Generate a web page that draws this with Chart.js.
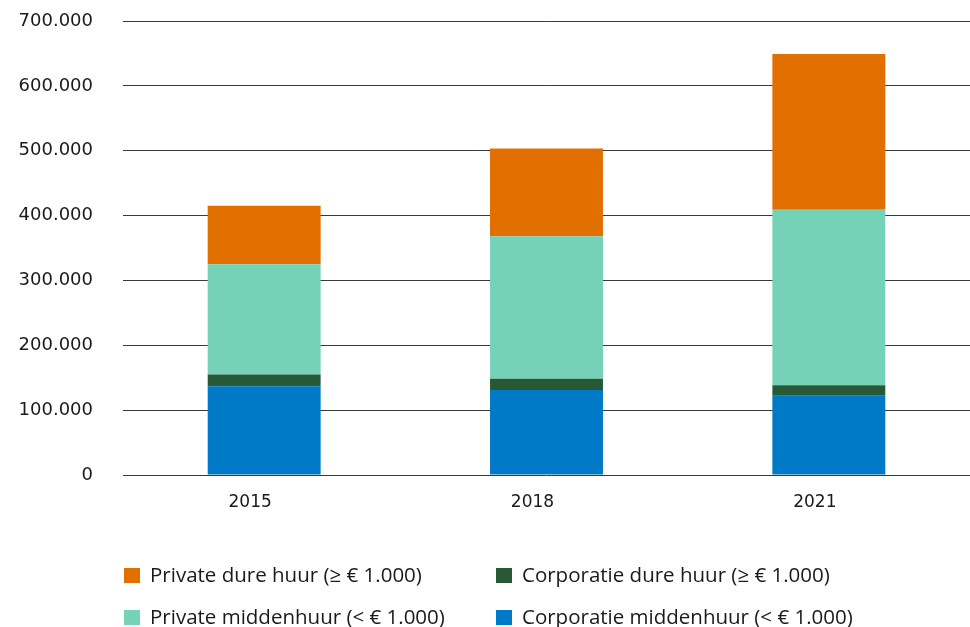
<!DOCTYPE html>
<html>
<head>
<meta charset="utf-8">
<script src="https://cdn.jsdelivr.net/npm/chart.js@4/dist/chart.umd.min.js"></script>
<style>
  html, body { margin: 0; padding: 0; background: #fff; }
  #wrap { position: relative; width: 970px; height: 627px; }
  canvas { display: block; }
  #legend { position: absolute; left: 124px; top: 561px; width: 846px;
    font-family: "Open Sans", sans-serif; font-size: 20.5px; color: #1a1a1a; }
  .item { position: absolute; white-space: nowrap; line-height: 26px; }
  .item span.box { display: inline-block; width: 16px; height: 15px; margin-right: 10px; vertical-align: -1px; }
</style>
</head>
<body>
<div id="wrap">
  <canvas id="chart" width="970" height="627"></canvas>
  <div id="legend"></div>
</div>
<script>
document.addEventListener('DOMContentLoaded', function() {
    // Jaren
    const jaren = ['2015', '2018', '2021'];

    // Waarden per segment (van onder naar boven gestapeld)
    const corporatieMidden = [137000, 131000, 122000];
    const corporatieDuur = [18000, 17500, 16500];
    const privateMidden = [170000, 219500, 270500];
    const privateDuur = [90000, 135500, 240000];

    const yTicks = [0, 100000, 200000, 300000, 400000, 500000, 600000, 700000];

    const kleuren = {
        corporatieMidden: '#0079c6',
        corporatieDuur: '#275937',
        privateMidden: '#76d2b6',
        privateDuur: '#e17000'
    };

    function fmt(v) {
        return String(v).replace(/\B(?=(\d{3})+(?!\d))/g, '.');
    }

    const ctx = document.getElementById('chart').getContext('2d');
    new Chart(ctx, {
        type: 'bar',
        data: {
            labels: jaren,
            datasets: [
                { label: 'Corporatie middenhuur (< € 1.000)', data: corporatieMidden, backgroundColor: kleuren.corporatieMidden },
                { label: 'Corporatie dure huur (≥ € 1.000)', data: corporatieDuur, backgroundColor: kleuren.corporatieDuur },
                { label: 'Private middenhuur (< € 1.000)', data: privateMidden, backgroundColor: kleuren.privateMidden },
                { label: 'Private dure huur (≥ € 1.000)', data: privateDuur, backgroundColor: kleuren.privateDuur }
            ]
        },
        options: {
            responsive: false,
            animation: false,
            layout: { padding: { top: 21, right: 0, bottom: 0, left: 0 } },
            datasets: { bar: { barPercentage: 0.4, categoryPercentage: 1 } },
            plugins: { legend: { display: false }, tooltip: { enabled: false } },
            scales: {
                x: {
                    stacked: true,
                    grid: { display: false, drawTicks: false },
                    border: { display: false },
                    ticks: {
                        color: '#1a1a1a',
                        font: { family: 'DejaVu Sans', size: 17 },
                        padding: 17,
                        labelOffset: -14
                    },
                    afterFit: function(scale) { scale.height = 152; }
                },
                y: {
                    stacked: true,
                    min: 0,
                    max: 700000,
                    afterBuildTicks: function(scale) {
                        scale.ticks = yTicks.map(function(v) { return { value: v }; });
                    },
                    grid: { color: '#3a3a3a', lineWidth: 1, drawTicks: false },
                    border: { display: false },
                    ticks: {
                        color: '#1a1a1a',
                        font: { family: 'DejaVu Sans', size: 18 },
                        padding: 30,
                        callback: function(v) { return fmt(v); }
                    },
                    afterFit: function(scale) {
                        scale.width = 123;
                        scale.paddingTop = 0;
                        scale.paddingBottom = 0;
                    }
                }
            }
        }
    });

    // Legenda in twee kolommen
    const legendItems = [
        { text: 'Private dure huur (≥ € 1.000)', kleur: kleuren.privateDuur, x: 0, y: 0 },
        { text: 'Corporatie dure huur (≥ € 1.000)', kleur: kleuren.corporatieDuur, x: 372, y: 0 },
        { text: 'Private middenhuur (< € 1.000)', kleur: kleuren.privateMidden, x: 0, y: 42 },
        { text: 'Corporatie middenhuur (< € 1.000)', kleur: kleuren.corporatieMidden, x: 372, y: 42 }
    ];
    const legend = document.getElementById('legend');
    legendItems.forEach(function(it) {
        const d = document.createElement('div');
        d.className = 'item';
        d.style.left = it.x + 'px';
        d.style.top = it.y + 'px';
        const b = document.createElement('span');
        b.className = 'box';
        b.style.background = it.kleur;
        d.appendChild(b);
        d.appendChild(document.createTextNode(it.text));
        legend.appendChild(d);
    });
});
</script>
</body>
</html>
